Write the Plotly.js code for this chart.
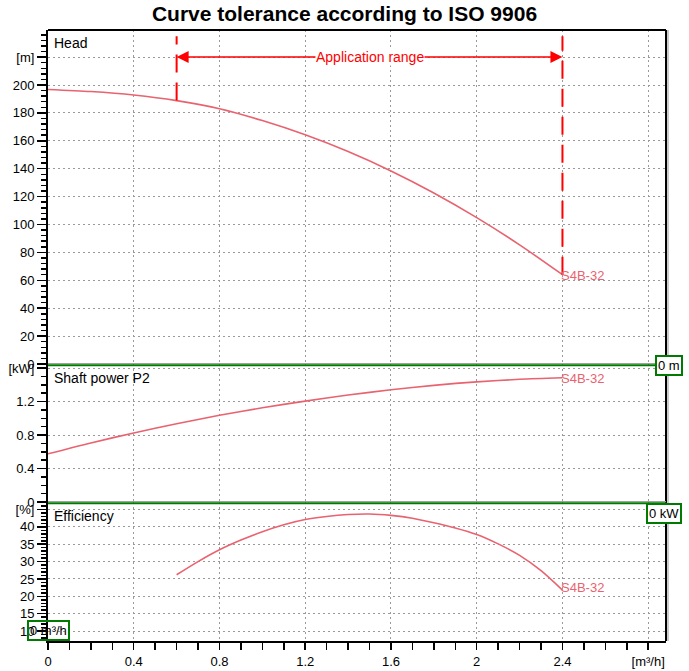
<!DOCTYPE html>
<html>
<head>
<meta charset="utf-8">
<script src="https://cdn.plot.ly/plotly-3.0.1.min.js"></script>
<style>html,body{margin:0;padding:0;background:#fff;}#chart{width:689px;height:671px;}</style>
</head>
<body>
<div id="chart"></div>
<script>
// ---- data ----
const seriesName = 'S4B-32';
const flow  = [0, 0.2, 0.4, 0.6, 0.8, 1.0, 1.2, 1.4, 1.6, 1.8, 2.0, 2.2, 2.4];
const head  = [196.8, 195.3, 192.8, 188.8, 183, 174.5, 164.3, 152.3, 138.4, 122.6, 104.9, 85.4, 64];
const power = [0.575, 0.705, 0.825, 0.935, 1.035, 1.125, 1.205, 1.277, 1.34, 1.393, 1.435, 1.465, 1.483];
const effFlow = [0.6, 0.7, 0.8, 0.9, 1.0, 1.1, 1.2, 1.3, 1.4, 1.5, 1.6, 1.7, 1.8, 1.9, 2.0, 2.1, 2.2, 2.3, 2.4];
const eff     = [26.2, 30.0, 33.4, 36.2, 38.6, 40.6, 42.1, 43.0, 43.55, 43.7, 43.3, 42.5, 41.2, 39.7, 37.8, 35.1, 31.8, 27.4, 21.8];
const appRange = [0.6, 2.4];
const appLabel = 'Application range';

const xTickVals = [0, 0.4, 0.8, 1.2, 1.6, 2.0, 2.4, 2.8];
const xTickText = ['0', '0.4', '0.8', '1.2', '1.6', '2', '2.4', '[m³/h]'];
const headTickVals = [0, 20, 40, 60, 80, 100, 120, 140, 160, 180, 200, 220];
const headTickText = ['0', '20', '40', '60', '80', '100', '120', '140', '160', '180', '200', '[m]'];
const powTickVals = [0, 0.4, 0.8, 1.2, 1.6];
const powTickText = ['0', '0.4', '0.8', '1.2', '[kW]'];
const effTickVals = [10, 15, 20, 25, 30, 35, 40, 45];
const effTickText = ['10', '15', '20', '25', '30', '35', '40', '[%]'];
const panelLabels = ['Head', 'Shaft power P2', 'Efficiency'];
const zeroBoxes = ['0 m', '0 kW', '0 m³/h'];

// ---- style ----
const FONT = 'Liberation Sans, Arial, sans-serif';
const curveColor = '#e8636f';
const red = '#ff0000';
const green = '#007a00';
const gridStyle = {showgrid: true, gridcolor: '#9a9a9a', griddash: '2px,3px', gridwidth: 1, zeroline: false};

// pixel -> paper helpers (plot area: x 48..666, y 30..641)
const PL = 48, PR = 666, PT = 30, PB = 641;
const px = v => (v - PL) / (PR - PL);
const py = v => (PB - v) / (PB - PT);

const hAt = x => head[flow.indexOf(x)];

const lineStyle = {color: curveColor, width: 1.6, shape: 'spline', smoothing: 0.8};
const traces = [
  {x: flow, y: head, xaxis: 'x', yaxis: 'y', mode: 'lines', line: lineStyle, name: seriesName, hoverinfo: 'skip'},
  {x: flow, y: power, xaxis: 'x', yaxis: 'y2', mode: 'lines', line: lineStyle, name: seriesName, hoverinfo: 'skip'},
  {x: effFlow, y: eff, xaxis: 'x', yaxis: 'y3', mode: 'lines', line: lineStyle, name: seriesName, hoverinfo: 'skip'}
];

const yCommon = {
  anchor: 'x', showline: true, linecolor: '#000', linewidth: 2,
  ticks: 'outside', ticklen: 9, tickwidth: 1.5, tickcolor: '#000',
  tickfont: {family: FONT, size: 13, color: '#000'}, tickmode: 'array',
  ...gridStyle
};
const yMinor = (d) => ({tickmode: 'linear', tick0: 0, dtick: d, ticks: 'outside', ticklen: 5, tickwidth: 1.5, tickcolor: '#000', showgrid: false});

const layout = {
  width: 689, height: 671,
  margin: {l: PL, r: 689 - PR, t: PT, b: 671 - PB},
  paper_bgcolor: '#fff', plot_bgcolor: '#fff',
  showlegend: false,
  title: {text: 'Curve tolerance according to ISO 9906', x: 0.5, xanchor: 'center', y: 1 - 14 / 671, yanchor: 'middle',
          font: {family: FONT, size: 21, color: '#000', weight: 'bold'}},
  xaxis: {
    anchor: 'y3', domain: [0, 1], range: [0, 2.883],
    showline: true, linecolor: '#000', linewidth: 2,
    ticks: 'outside', ticklen: 7, tickwidth: 1.5, tickcolor: '#000',
    tickmode: 'array', tickvals: xTickVals, ticktext: xTickText,
    tickfont: {family: FONT, size: 13, color: '#000'},
    minor: {tickmode: 'linear', tick0: 0, dtick: 0.1, ticks: 'outside', ticklen: 7, tickwidth: 1.5, tickcolor: '#000', showgrid: false},
    ...gridStyle
  },
  yaxis: {...yCommon, domain: [py(364), 1], range: [0, (364 - PT) / 1.395],
          tickvals: headTickVals, ticktext: headTickText, minor: yMinor(4)},
  yaxis2: {...yCommon, domain: [py(502), py(364)], range: [0, 1.648],
          tickvals: powTickVals, ticktext: powTickText, minor: yMinor(0.1)},
  yaxis3: {...yCommon, domain: [0, py(502)], range: [7.13, 47.16],
          tickvals: effTickVals, ticktext: effTickText, minor: yMinor(1)},
  shapes: [
    // frame top & right
    {type: 'line', xref: 'paper', yref: 'paper', x0: 0, x1: 1, y0: 1, y1: 1, line: {color: '#000', width: 2}},
    {type: 'line', xref: 'paper', yref: 'paper', x0: 1, x1: 1, y0: 0, y1: 1, line: {color: '#000', width: 2}},
    {type: 'line', xref: 'paper', yref: 'paper', x0: px(668), x1: px(668), y0: 0, y1: 1, line: {color: '#999', width: 1}},
    // panel separators
    {type: 'line', xref: 'paper', yref: 'paper', x0: 0, x1: 1, y0: py(363.5), y1: py(363.5), line: {color: '#a0a0a0', width: 1}},
    {type: 'line', xref: 'paper', yref: 'paper', x0: 0, x1: 1, y0: py(365.3), y1: py(365.3), line: {color: green, width: 2}},
    {type: 'line', xref: 'paper', yref: 'paper', x0: 0, x1: 1, y0: py(501.5), y1: py(501.5), line: {color: '#a0a0a0', width: 1}},
    {type: 'line', xref: 'paper', yref: 'paper', x0: 0, x1: 1, y0: py(503.2), y1: py(503.2), line: {color: green, width: 2}},
    // application range verticals
    {type: 'line', xref: 'x', yref: 'y', x0: appRange[0], x1: appRange[0], y0: hAt(appRange[0]), y1: 235, line: {color: red, width: 2, dash: '18px,10px'}},
    {type: 'line', xref: 'x', yref: 'y', x0: appRange[1], x1: appRange[1], y0: hAt(appRange[1]), y1: 235, line: {color: red, width: 2, dash: '18px,10px'}}
  ],
  annotations: [
    // arrows of application range
    {xref: 'x', yref: 'y', axref: 'x', ayref: 'y', x: appRange[0], y: 220, ax: (appRange[0] + appRange[1]) / 2, ay: 220,
     text: '', showarrow: true, arrowhead: 2, arrowsize: 1.6, arrowwidth: 1.5, arrowcolor: red, standoff: 0, startstandoff: 0},
    {xref: 'x', yref: 'y', axref: 'x', ayref: 'y', x: appRange[1], y: 220, ax: (appRange[0] + appRange[1]) / 2, ay: 220,
     text: '', showarrow: true, arrowhead: 2, arrowsize: 1.6, arrowwidth: 1.5, arrowcolor: red, standoff: 0, startstandoff: 0},
    {xref: 'x', yref: 'y', x: (appRange[0] + appRange[1]) / 2, y: 220, text: appLabel, showarrow: false,
     bgcolor: '#fff', borderpad: 0, font: {family: FONT, size: 14, color: red}, xanchor: 'center', yanchor: 'middle'},
    // panel labels
    {xref: 'paper', yref: 'paper', x: px(52), y: py(43), text: panelLabels[0], showarrow: false, xanchor: 'left', yanchor: 'middle', font: {family: FONT, size: 14, color: '#000'}},
    {xref: 'paper', yref: 'paper', x: px(52), y: py(378), text: panelLabels[1], showarrow: false, xanchor: 'left', yanchor: 'middle', font: {family: FONT, size: 14, color: '#000'}},
    {xref: 'paper', yref: 'paper', x: px(52), y: py(516), text: panelLabels[2], showarrow: false, xanchor: 'left', yanchor: 'middle', font: {family: FONT, size: 14, color: '#000'}},
    // curve end labels
    {xref: 'x', yref: 'y', x: flow[flow.length - 1], y: head[head.length - 1], text: seriesName, showarrow: false, xanchor: 'left', yanchor: 'middle', xshift: -3, yshift: -1, font: {family: FONT, size: 13, color: curveColor}},
    {xref: 'x', yref: 'y2', x: flow[flow.length - 1], y: power[power.length - 1], text: seriesName, showarrow: false, xanchor: 'left', yanchor: 'middle', xshift: -3, yshift: -1, font: {family: FONT, size: 13, color: curveColor}},
    {xref: 'x', yref: 'y3', x: effFlow[effFlow.length - 1], y: eff[eff.length - 1], text: seriesName, showarrow: false, xanchor: 'left', yanchor: 'middle', xshift: -3, yshift: 3, font: {family: FONT, size: 13, color: curveColor}},
    // green zero boxes
    {xref: 'paper', yref: 'paper', x: px(669), y: py(365), text: zeroBoxes[0], showarrow: false, xanchor: 'center', yanchor: 'middle', bgcolor: '#fff', bordercolor: green, borderwidth: 2, borderpad: 1, font: {family: FONT, size: 13, color: '#000'}},
    {xref: 'paper', yref: 'paper', x: px(664), y: py(513), text: zeroBoxes[1], showarrow: false, xanchor: 'center', yanchor: 'middle', bgcolor: '#fff', bordercolor: green, borderwidth: 2, borderpad: 1, font: {family: FONT, size: 13, color: '#000'}},
    {xref: 'paper', yref: 'paper', x: px(48.5), y: py(630), text: zeroBoxes[2], showarrow: false, xanchor: 'center', yanchor: 'middle', bgcolor: 'rgba(255,255,255,0)', bordercolor: green, borderwidth: 2, borderpad: 1, font: {family: FONT, size: 13, color: '#000'}}
  ]
};

Plotly.newPlot('chart', traces, layout, {displayModeBar: false, staticPlot: true});
</script>
</body>
</html>
